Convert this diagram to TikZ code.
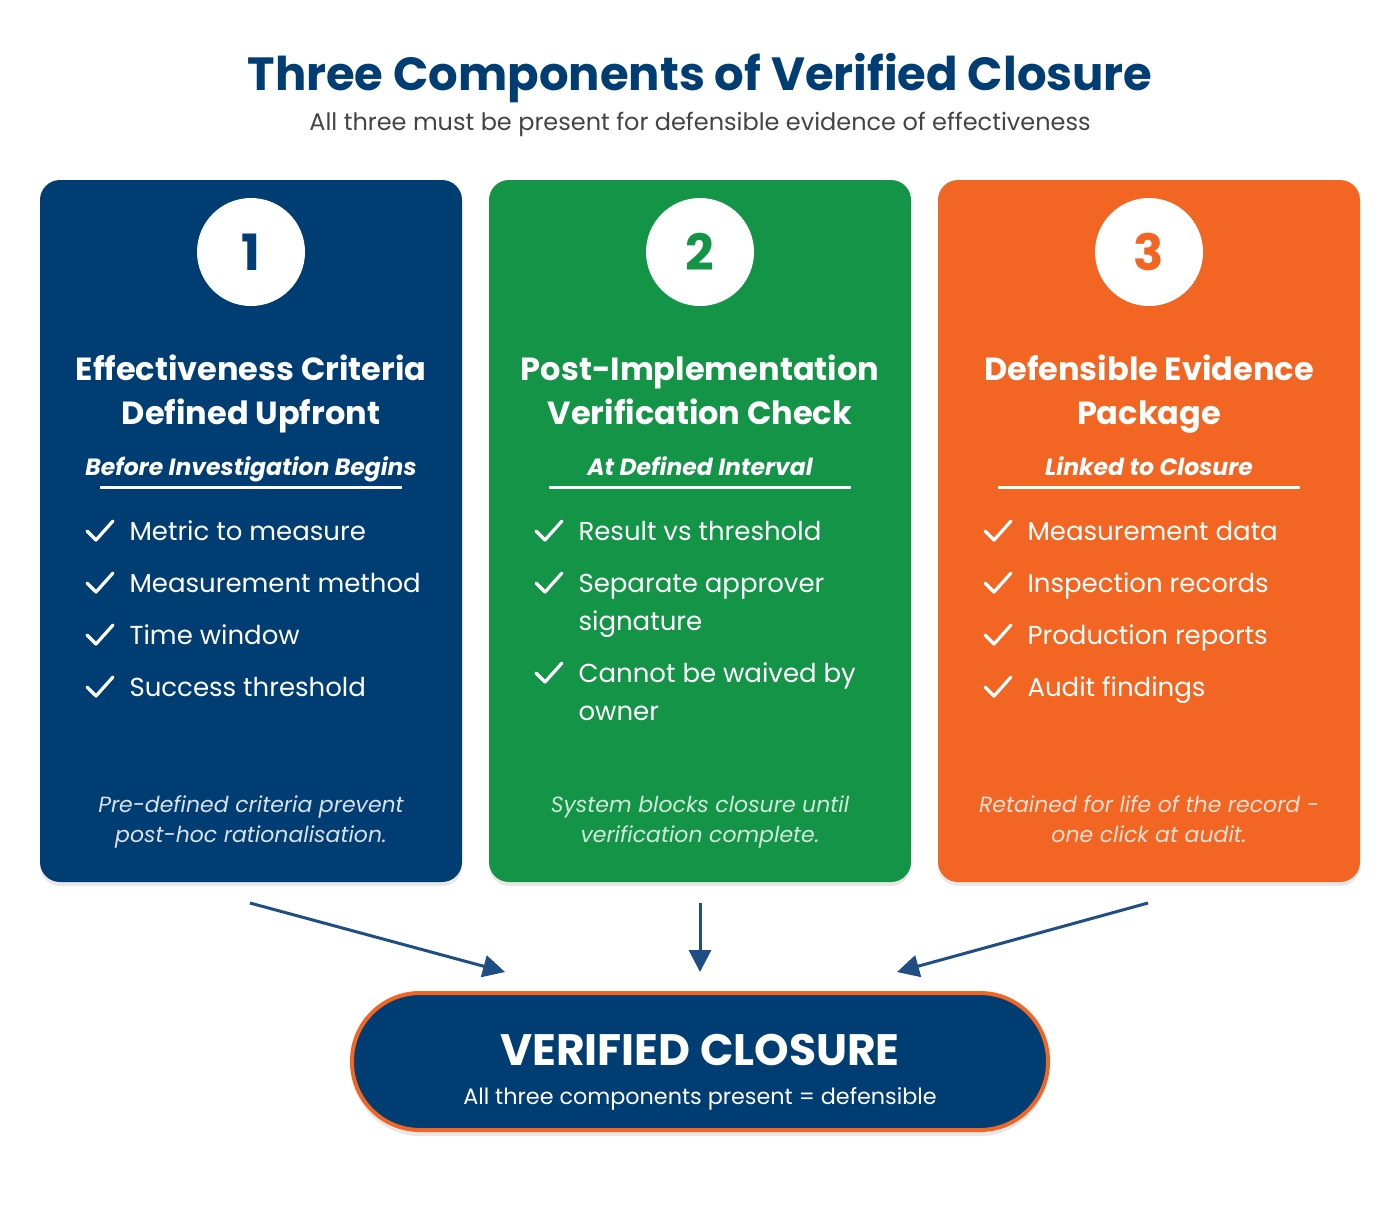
\documentclass[tikz,border=0pt]{standalone}
\usepackage{fontspec}
\setmainfont{Poppins}
\usetikzlibrary{shadows,arrows.meta}
\definecolor{cblue}{HTML}{003D73}
\definecolor{cgreen}{HTML}{149447}
\definecolor{corange}{HTML}{F26522}
\definecolor{arr}{HTML}{1F4E85}
\definecolor{gtext}{HTML}{444444}
\tikzset{x=1pt,y=1pt,
 card/.style={rounded corners=20pt,draw=none,drop shadow={opacity=0.18,shadow xshift=0pt,shadow yshift=-4pt}},
 numc/.style={circle,fill=white,minimum size=108pt,inner sep=0pt,font=\fontsize{50}{50}\selectfont\bfseries},
 ctitle/.style={text=white,font=\fontsize{32}{44}\selectfont\bfseries,align=center,anchor=base},
 csub/.style={text=white,font=\fontsize{23.5}{26}\selectfont\bfseries\itshape,anchor=base},
 bul/.style={text=white,font=\fontsize{26}{38}\selectfont,anchor=base west,align=left},
 foot/.style={font=\fontsize{22}{30}\selectfont\itshape,align=center,anchor=base},
 chk/.style={white,line width=3.2pt,line cap=round,line join=round},
 conn/.style={arr,line width=3pt,-{Triangle[length=22pt,width=22pt]}}}
\newcommand{\chkmark}[2]{\draw[chk] (#1-14,#2) -- (#1-5,#2-9) -- (#1+12,#2+10);}
\begin{document}
\begin{tikzpicture}
\useasboundingbox (0,0) rectangle (1400,-1211);
\fill[white] (0,0) rectangle (1400,-1211);
\node[text=cblue,font=\fontsize{46.5}{50}\selectfont\bfseries] (title) at (700,-78) {Three Components of Verified Closure};
\node[text=gtext,font=\fontsize{24}{28}\selectfont] (subtitle) at (700,-124) {All three must be present for defensible evidence of effectiveness};
% cards
\fill[cblue,card] (40,-180) rectangle (462,-882);
\fill[cgreen,card] (489,-180) rectangle (911,-882);
\fill[corange,card] (938,-180) rectangle (1360,-882);
\node[numc,text=cblue] (n1) at (251,-252) {1};
\node[numc,text=cgreen] (n2) at (700,-252) {2};
\node[numc,text=corange] (n3) at (1149,-252) {3};
\node[ctitle] (t1) at (251,-424) {Effectiveness Criteria\\Defined Upfront};
\node[ctitle] (t2) at (700,-424) {Post-Implementation\\Verification Check};
\node[ctitle] (t3) at (1149,-424) {Defensible Evidence\\Package};
\node[csub] (s1) at (251,-475) {Before Investigation Begins};
\node[csub] (s2) at (700,-475) {At Defined Interval};
\node[csub] (s3) at (1149,-475) {Linked to Closure};
\draw[white,line width=3pt] (100,-487) -- (402,-487);
\draw[white,line width=3pt] (549,-487) -- (851,-487);
\draw[white,line width=3pt] (998,-487) -- (1300,-487);
\foreach \y/\t in {531/Metric to measure,583/Measurement method,635/Time window,687/Success threshold}{
 \chkmark{101}{-\y}
 \node[bul] at (126,-\y-9) {\t};}
\foreach \y/\t in {531/Result vs threshold,583/Separate approver,673/Cannot be waived by}{
 \chkmark{550}{-\y}
 \node[bul] at (575,-\y-9) {\t};}
\node[bul] at (575,-630) {signature};
\node[bul] at (575,-720) {owner};
\foreach \y/\t in {531/Measurement data,583/Inspection records,635/Production reports,687/Audit findings}{
 \chkmark{999}{-\y}
 \node[bul] at (1024,-\y-9) {\t};}
\node[foot,text=white!85!cblue] (f1) at (251,-842) {Pre-defined criteria prevent\\post-hoc rationalisation.};
\node[foot,text=white!80!cgreen] (f2) at (700,-842) {System blocks closure until\\verification complete.};
\node[foot,text=white!80!corange] (f3) at (1149,-842) {Retained for life of the record -\\one click at audit.};
% closure
\fill[cblue,draw=corange,line width=4pt,rounded corners=68pt,drop shadow={opacity=0.18,shadow xshift=0pt,shadow yshift=-6pt}] (352,-993) rectangle (1048,-1130);
\node[text=white,font=\fontsize{44}{46}\selectfont\bfseries] (vc) at (700,-1050) {VERIFIED CLOSURE};
\node[text=white,font=\fontsize{22.3}{24}\selectfont] (vcs) at (700,-1099) {All three components present = defensible};
\coordinate (a1) at (250,-903); \coordinate (e1) at (505,-972);
\coordinate (a2) at (700,-903); \coordinate (e2) at (700,-972);
\coordinate (a3) at (1148,-903); \coordinate (e3) at (897,-972);
\draw[conn] (a1) -- (e1);
\draw[conn] (a2) -- (e2);
\draw[conn] (a3) -- (e3);
\end{tikzpicture}
\end{document}
